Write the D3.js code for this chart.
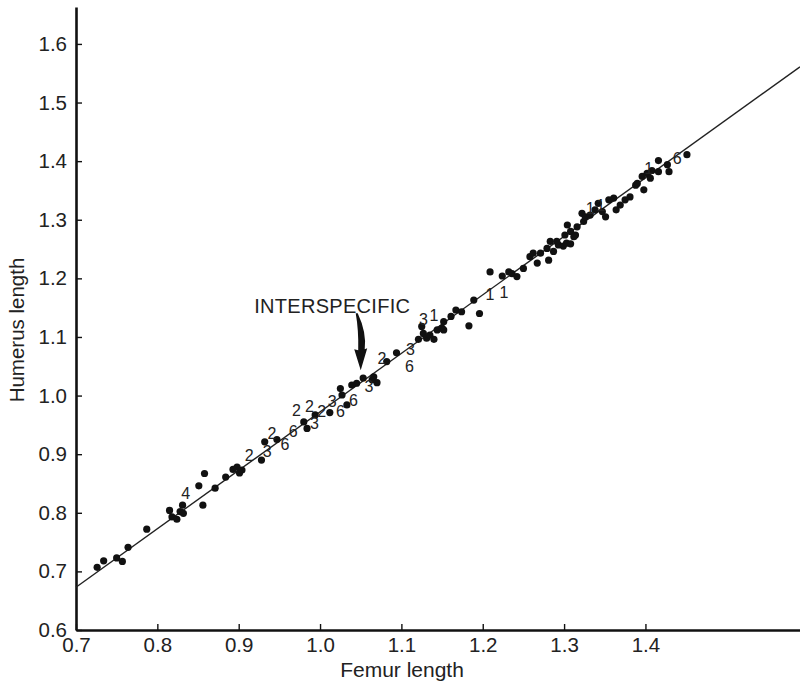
<!DOCTYPE html>
<html>
<head>
<meta charset="utf-8">
<script src="https://cdn.jsdelivr.net/npm/d3@7"></script>
<style>
  html, body { margin: 0; padding: 0; background: #fff; }
  svg text { font-family: "Liberation Sans", Arial, Helvetica, sans-serif; fill: #222; }
</style>
</head>
<body>
<svg id="chart" width="800" height="685"></svg>
<script>
// ---- data ----
const xTicks = [0.7, 0.8, 0.9, 1.0, 1.1, 1.2, 1.3, 1.4];
const yTicks = [0.6, 0.7, 0.8, 0.9, 1.0, 1.1, 1.2, 1.3, 1.4, 1.5, 1.6];

const femur = [
  0.726, 0.734, 0.750, 0.757, 0.764, 0.787, 0.815, 0.818, 0.824, 0.828, 0.831, 0.832,
  0.851, 0.856, 0.858, 0.871, 0.884, 0.893, 0.898, 0.901, 0.904, 0.928, 0.932, 0.947,
  0.980, 0.984, 0.994, 1.012, 1.025, 1.027, 1.033, 1.039, 1.045, 1.070, 1.053, 1.064,
  1.066, 1.082, 1.094, 1.121, 1.125, 1.127, 1.131, 1.135, 1.140, 1.144, 1.150, 1.152,
  1.152, 1.161, 1.167, 1.174, 1.183, 1.189, 1.196, 1.209, 1.224, 1.232, 1.236, 1.242,
  1.250, 1.258, 1.262, 1.267, 1.271, 1.279, 1.283, 1.287, 1.293, 1.299, 1.303, 1.308,
  1.301, 1.308, 1.314, 1.316, 1.304, 1.324, 1.281, 1.291, 1.312, 1.322, 1.326, 1.342,
  1.347, 1.351, 1.355, 1.361, 1.364, 1.381, 1.388, 1.390, 1.398, 1.396, 1.402, 1.408,
  1.406, 1.416, 1.416, 1.427, 1.429, 1.451, 1.332, 1.338, 1.369, 1.375
];
const humerus = [
  0.707, 0.718, 0.723, 0.717, 0.741, 0.772, 0.804, 0.793, 0.789, 0.802, 0.813, 0.799,
  0.846, 0.813, 0.867, 0.842, 0.861, 0.874, 0.878, 0.868, 0.873, 0.890, 0.921, 0.925,
  0.955, 0.944, 0.967, 0.971, 1.012, 1.001, 0.984, 1.018, 1.021, 1.022, 1.030, 1.027,
  1.032, 1.058, 1.073, 1.096, 1.118, 1.106, 1.098, 1.103, 1.096, 1.112, 1.115, 1.126,
  1.112, 1.135, 1.146, 1.143, 1.119, 1.163, 1.140, 1.211, 1.204, 1.211, 1.208, 1.203,
  1.217, 1.237, 1.243, 1.226, 1.243, 1.251, 1.263, 1.246, 1.257, 1.255, 1.260, 1.259,
  1.274, 1.280, 1.274, 1.288, 1.291, 1.297, 1.231, 1.263, 1.271, 1.311, 1.305, 1.328,
  1.314, 1.305, 1.334, 1.337, 1.317, 1.339, 1.359, 1.362, 1.351, 1.374, 1.379, 1.384,
  1.371, 1.401, 1.382, 1.394, 1.382, 1.411, 1.308, 1.317, 1.325, 1.334
];

// species number markers
const markFemur = [
  0.835, 0.913, 0.935, 0.941, 0.957, 0.967, 0.971, 0.987, 0.993, 1.002, 1.015, 1.025,
  1.041, 1.060, 1.076, 1.111, 1.110, 1.127, 1.140, 1.209, 1.226, 1.332, 1.345, 1.404, 1.439
];
const markHumerus = [
  0.833, 0.897, 0.904, 0.936, 0.917, 0.939, 0.974, 0.981, 0.952, 0.973, 0.990, 0.973,
  0.991, 1.015, 1.064, 1.078, 1.049, 1.129, 1.137, 1.172, 1.176, 1.320, 1.324, 1.388, 1.405
];
const markText = [
  "4", "2", "3", "2", "6", "6", "2", "2", "3", "2", "3", "6",
  "6", "3", "2", "3", "6", "3", "1", "1", "1", "1", "1", "1", "6"
];

// fitted line endpoints
const lineFemur = [0.7, 1.59];
const lineHumerus = [0.673, 1.561];

// annotation
const annoText = "INTERSPECIFIC";
const annoTextAt = [1.015, 1.141];
const annoArrowTip = [1.050, 1.043];

// ---- drawing ----
const svg = d3.select("#chart");
const x = d3.scaleLinear().domain([0.7, 1.59]).range([76, 800]);
const y = d3.scaleLinear().domain([0.6, 1.663]).range([630, 7]);

// axes
const xAxis = d3.axisBottom(x).tickValues(xTicks).tickFormat(d3.format(".1f"))
  .tickSizeInner(-6).tickSizeOuter(0).tickPadding(7);
const yAxis = d3.axisLeft(y).tickValues(yTicks).tickFormat(d3.format(".1f"))
  .tickSizeInner(-6).tickSizeOuter(0).tickPadding(9);

const gx = svg.append("g").attr("transform", "translate(0,630)").call(xAxis);
const gy = svg.append("g").attr("transform", "translate(76,0)").call(yAxis);
[gx, gy].forEach(g => {
  g.select(".domain").attr("stroke", "#111").attr("stroke-width", 2.6);
  g.selectAll(".tick line").attr("stroke", "#111").attr("stroke-width", 1.4);
  g.selectAll(".tick text").attr("font-size", 20.5).attr("fill", "#222")
    .style("font-family", '"Liberation Sans", Arial, sans-serif');
});

// axis titles
svg.append("text").attr("x", 402).attr("y", 677).attr("text-anchor", "middle")
  .attr("font-size", 21).text("Femur length");
svg.append("text").attr("transform", "translate(24,330) rotate(-90)")
  .attr("text-anchor", "middle").attr("font-size", 20.5).text("Humerus length");

// regression line
svg.append("path")
  .datum(lineFemur.map((d, i) => [d, lineHumerus[i]]))
  .attr("fill", "none").attr("stroke", "#222").attr("stroke-width", 1.4)
  .attr("d", d3.line().x(d => x(d[0])).y(d => y(d[1])));

// points
svg.append("g").selectAll("circle")
  .data(femur.map((d, i) => [d, humerus[i]]))
  .join("circle")
  .attr("cx", d => x(d[0])).attr("cy", d => y(d[1]))
  .attr("r", 3.6).attr("fill", "#111");

// species markers
svg.append("g").selectAll("text")
  .data(markText.map((t, i) => ({t, fx: markFemur[i], hy: markHumerus[i]})))
  .join("text")
  .attr("x", d => x(d.fx)).attr("y", d => y(d.hy))
  .attr("text-anchor", "middle").attr("dominant-baseline", "central")
  .attr("font-size", 16).attr("fill", "#222")
  .text(d => d.t);

// annotation text
svg.append("text").attr("x", x(annoTextAt[0])).attr("y", y(annoTextAt[1]))
  .attr("text-anchor", "middle").attr("font-size", 20).attr("letter-spacing", 0.3)
  .text(annoText);

// arrow (tapered, slightly curved)
const tx = x(annoArrowTip[0]), ty = y(annoArrowTip[1]);
svg.append("path")
  .attr("transform", `translate(${tx},${ty})`)
  .attr("d", "M -5,-57 L -3,-57 Q 6,-38 4,-21 L 6.5,-22 L 0,0 L -6.5,-21 L -2.5,-20 Q -2,-40 -5,-57 Z")
  .attr("fill", "#111");
</script>
</body>
</html>
